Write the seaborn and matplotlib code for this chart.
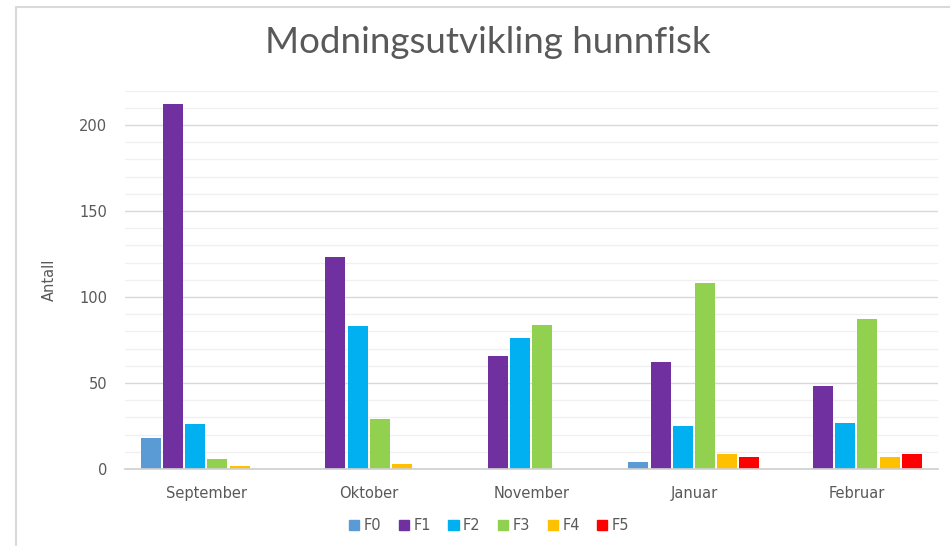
import pandas as pd
import matplotlib.pyplot as plt
import seaborn as sns
from matplotlib.lines import Line2D
from matplotlib.ticker import MultipleLocator

months = ['September', 'Oktober', 'November', 'Januar', 'Februar']
stages = ['F0', 'F1', 'F2', 'F3', 'F4', 'F5']
f0 = [18, 0, 0, 4, 0]
f1 = [212, 123, 66, 62, 48]
f2 = [26, 83, 76, 25, 27]
f3 = [6, 29, 84, 108, 87]
f4 = [2, 3, 0, 9, 7]
f5 = [0, 0, 0, 7, 9]
colors = ['#5B9BD5', '#7030A0', '#00B0F0', '#92D050', '#FFC000', '#FF0000']

# long-form tabell for seaborn
rows = []
for stage, vals in zip(stages, [f0, f1, f2, f3, f4, f5]):
    for m, v in zip(months, vals):
        rows.append({'Måned': m, 'Stadium': stage, 'Antall': v})
df = pd.DataFrame(rows)

sns.set_theme(style='white')
plt.rcParams['font.family'] = ['DejaVu Sans']

fig = plt.figure(figsize=(9.5, 5.46), dpi=100)
ax = fig.add_axes([0.1316, 0.141, 0.8554, 0.693])

sns.barplot(data=df, x='Måned', y='Antall', hue='Stadium', order=months,
            hue_order=stages, palette=colors, width=0.82, gap=0.1,
            linewidth=0, saturation=1, ax=ax, legend=False)

ax.set_ylim(0, 220)
ax.set_xlim(-0.5, 4.5)
ax.yaxis.set_major_locator(MultipleLocator(50))
ax.yaxis.set_minor_locator(MultipleLocator(10))
ax.grid(which='minor', axis='y', color='#f0f0f0', linewidth=1)
ax.grid(which='major', axis='y', color='#d9d9d9', linewidth=1)
ax.set_axisbelow(True)
for s in ['top', 'right', 'left']:
    ax.spines[s].set_visible(False)
ax.spines['bottom'].set_color('#d0d0d0')
ax.tick_params(axis='y', which='both', length=0, pad=13, labelsize=10.5, labelcolor='#595959')
ax.tick_params(axis='x', length=0, pad=12, labelsize=10.5, labelcolor='#595959')
ax.set_xlabel('')
ax.set_ylabel('Antall', fontsize=10.5, color='#595959', labelpad=16)

fig.text(0.514, 0.923, 'Modningsutvikling hunnfisk', ha='center', va='center',
         fontsize=26.5, color='#595959', family=['Lato', 'DejaVu Sans'])

handles = [plt.Rectangle((0, 0), 1, 1, color=c) for c in colors]
fig.legend(handles, stages, loc='center', bbox_to_anchor=(0.515, 0.037), ncol=6,
           frameon=False, handlelength=0.7, handleheight=0.7, handletextpad=0.3,
           columnspacing=1.2, prop={'size': 10.5}, labelcolor='#595959')

# ytre ramme
fig.add_artist(Line2D([15.5 / 950, 15.5 / 950], [0, 1 - 6.5 / 546], color='#d9d9d9', lw=1.5, transform=fig.transFigure))
fig.add_artist(Line2D([15.5 / 950, 1], [1 - 6.5 / 546, 1 - 6.5 / 546], color='#d9d9d9', lw=1.5, transform=fig.transFigure))

plt.savefig('out.png', dpi=100)
